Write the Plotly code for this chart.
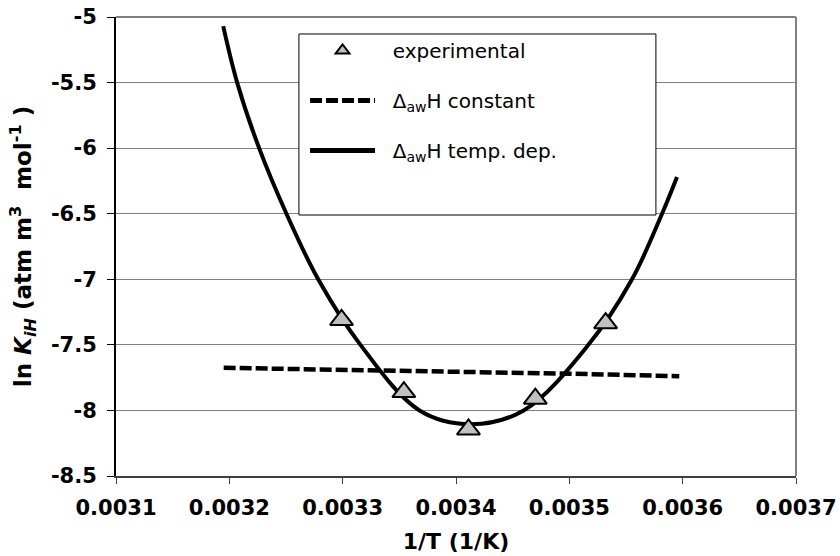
import plotly.graph_objects as go

# Experimental points
exp_x = [0.003299, 0.003354, 0.003411, 0.003470, 0.003532]
exp_y = [-7.31, -7.86, -8.145, -7.91, -7.335]

# ΔawH constant (dashed)
const_x = [0.003195, 0.003292, 0.003400, 0.003500, 0.003597]
const_y = [-7.675, -7.688, -7.700, -7.720, -7.739]

# ΔawH temperature dependent (solid)
temp_x = [0.0031946, 0.0032069, 0.0032263, 0.0032504, 0.0032784, 0.0033157,
          0.0033678, 0.0034127, 0.0034597, 0.0035168, 0.0035553, 0.0035818, 0.0035950]
temp_y = [-5.07, -5.50, -6.00, -6.50, -7.00, -7.50,
          -8.00, -8.105, -8.00, -7.50, -7.00, -6.50, -6.22]

x_ticks = [0.0031, 0.0032, 0.0033, 0.0034, 0.0035, 0.0036, 0.0037]
x_ticktext = ["0.0031", "0.0032", "0.0033", "0.0034", "0.0035", "0.0036", "0.0037"]
y_ticks = [-5, -5.5, -6, -6.5, -7, -7.5, -8, -8.5]
y_ticktext = ["-5", "-5.5", "-6", "-6.5", "-7", "-7.5", "-8", "-8.5"]

FONT = "DejaVu Sans"
SP = "\u00a0\u00a0"

fig = go.Figure()
fig.add_trace(go.Scatter(
    x=const_x, y=const_y, mode="lines", name=SP + "Δ<sub>aw</sub>H constant",
    line=dict(color="black", width=4.5, dash="12px,4px"),
    legendrank=2, legendgroup="b"))
fig.add_trace(go.Scatter(
    x=temp_x, y=temp_y, mode="lines", name=SP + "Δ<sub>aw</sub>H temp. dep.",
    line=dict(color="black", width=4, shape="spline", smoothing=1),
    legendrank=3, legendgroup="c"))
fig.add_trace(go.Scatter(
    x=exp_x, y=exp_y, mode="markers", name=SP + "experimental",
    marker=dict(symbol="triangle-up", size=20, color="#c0c0c0",
                line=dict(color="black", width=2)),
    legendrank=1, legendgroup="a"))

# legend box
fig.add_shape(type="rect", xref="paper", yref="paper",
              x0=0.269, x1=0.794, y0=0.5686, y1=0.963,
              fillcolor="white", line=dict(color="black", width=1), layer="above")
# gray plot-area border top/right
fig.add_shape(type="line", xref="paper", yref="paper", x0=0, x1=1, y0=1, y1=1,
              line=dict(color="#808080", width=2), layer="above")
fig.add_shape(type="line", xref="paper", yref="paper", x0=1, x1=1, y0=0, y1=1,
              line=dict(color="#808080", width=2), layer="above")

fig.update_layout(
    width=840, height=556,
    margin=dict(l=116, r=44, t=17, b=80, autoexpand=False),
    paper_bgcolor="white", plot_bgcolor="white",
    font=dict(family=FONT, size=20, color="black"),
    showlegend=True,
    legend=dict(x=0.278, y=0.9695, xanchor="left", yanchor="top",
                bgcolor="rgba(0,0,0,0)", borderwidth=0,
                traceorder="grouped", tracegroupgap=21,
                itemsizing="constant", itemwidth=65,
                font=dict(family=FONT, size=20, color="black")),
    xaxis=dict(range=[0.0031, 0.0037], tickvals=x_ticks, ticktext=x_ticktext,
               automargin=False,
               showgrid=False, zeroline=False,
               showline=True, linecolor="#404040", linewidth=2,
               ticks="outside", ticklen=6, tickcolor="#404040", tickwidth=1,
               ticklabelstandoff=6,
               tickfont=dict(family=FONT, size=21, color="black", weight="bold"),
               title=dict(text="<b>1/T (1/K)</b>", font=dict(family=FONT, size=22),
                          standoff=14)),
    yaxis=dict(range=[-8.5, -5], tickvals=y_ticks, ticktext=y_ticktext,
               automargin=False,
               showgrid=True, gridcolor="#808080", gridwidth=1, zeroline=False,
               showline=True, linecolor="black", linewidth=2,
               ticks="outside", ticklen=7, tickcolor="black", tickwidth=1,
               ticklabelstandoff=6,
               tickfont=dict(family=FONT, size=21, color="black", weight="bold"),
               title=dict(text="<b>ln <i>K</i><sub><i>iH</i></sub> (atm m<sup>3</sup>\u00a0 mol<sup>-1</sup>\u00a0)</b>",
                          font=dict(family=FONT, size=23), standoff=13)),
)

fig.write_html("out.html")
